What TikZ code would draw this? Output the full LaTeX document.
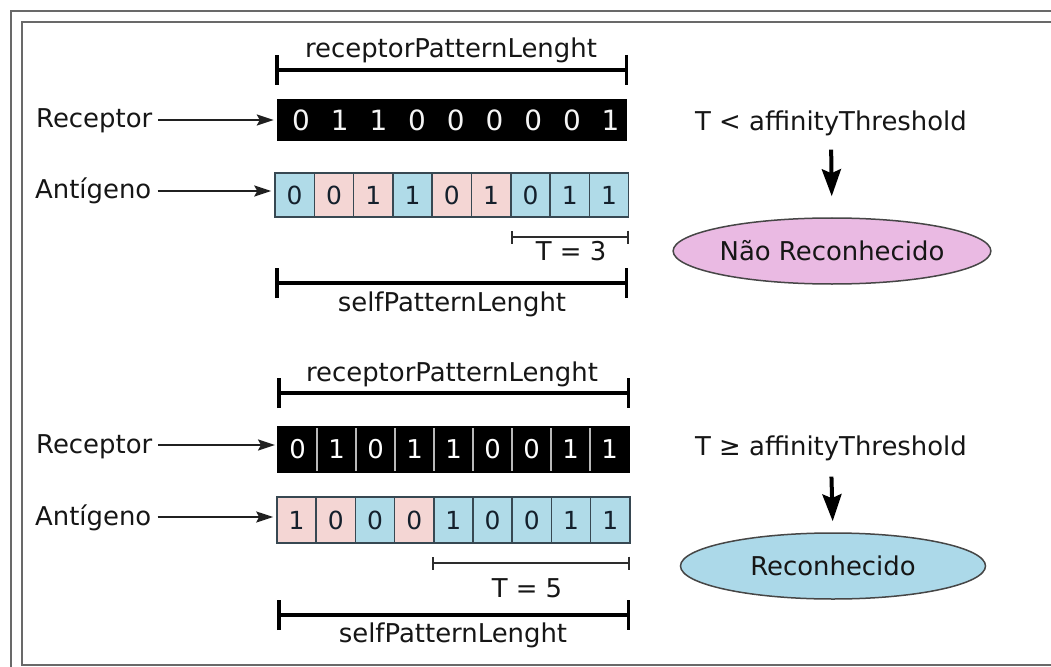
\documentclass[tikz,border=0pt]{standalone}
\usepackage{fontspec}
\setmainfont{DejaVu Sans}
\usetikzlibrary{arrows.meta,shapes.geometric}

\definecolor{cellblue}{RGB}{176,219,232}
\definecolor{cellpink}{RGB}{244,214,212}
\definecolor{ovalpink}{RGB}{234,186,227}
\definecolor{ovalblue}{RGB}{172,217,233}
\definecolor{framegray}{RGB}{105,105,105}
\definecolor{ink}{RGB}{22,22,22}
\definecolor{celledge}{RGB}{55,72,82}
\definecolor{digitink}{RGB}{20,32,44}

\begin{document}
\begin{tikzpicture}[x=1bp,y=-1bp,
  lbl/.style={font=\fontsize{26}{30}\selectfont, text=ink, inner sep=0pt},
  sidelbl/.style={lbl, anchor=west, text height=16bp, text depth=0pt},
  agcell/.style={draw=celledge, line width=1.5bp, minimum width=39.3bp,
    minimum height=44bp, inner sep=0pt, text=digitink,
    font=\fontsize{25}{28}\selectfont},
  rcell/.style={fill=black, draw=gray!55, line width=1.6bp, minimum width=39bp,
    minimum height=45bp, inner sep=0pt, outer sep=0pt, text=white,
    font=\fontsize{26}{30}\selectfont},
  thindigit/.style={inner sep=0pt, text=gray!8, font=\fontsize{28}{32}\selectfont},
  dimbar/.style={line width=3.5bp, draw=black, {Bar[width=30bp]}-{Bar[width=30bp]}},
  tbar/.style={line width=1.6bp, draw=gray!35!black, {Bar[width=13bp]}-{Bar[width=13bp]}},
  pointer/.style={line width=2bp, draw=gray!25!black,
    -{Stealth[length=17bp,width=11bp,inset=3bp]}},
  bigpointer/.style={line width=4bp, draw=black,
    -{Stealth[length=27bp,width=19bp,inset=4bp]}},
  oval/.style={ellipse, draw=gray!55!black, line width=1.5bp, minimum width=305bp,
    minimum height=66bp, inner sep=0pt, font=\fontsize{26}{30}\selectfont,
    text=ink}]

\useasboundingbox (0,0) rectangle (1051,667);
\fill[white] (0,0) rectangle (1051,667);

% double frame
\draw[framegray, line width=2bp] (10.5,667) -- (10.5,11.5) -- (1051,11.5);
\draw[framegray, line width=2bp] (1051,22) -- (22,22) -- (22,665) -- (1051,665);

% ---------- first comparison ----------
\coordinate (d1a) at (275,70);
\coordinate (d1b) at (628,70);
\draw[dimbar] (d1a) -- (d1b);
\node[lbl, anchor=base] (d1t) at (451,58) {receptorPatternLenght};

\node[fill=black, minimum width=350bp, minimum height=42bp, inner sep=0pt]
  (rc1) at (452,120) {};
\foreach \d [count=\i from 0] in {0,1,1,0,0,0,0,0,1}
  \node[thindigit] (rc1-\i) at ({301+38.7*\i},120) {\d};

\foreach \d/\c [count=\i from 0] in
  {0/cellblue,0/cellpink,1/cellpink,1/cellblue,0/cellpink,1/cellpink,0/cellblue,1/cellblue,1/cellblue}
  \node[agcell, fill=\c] (ag1-\i) at ({275+39.3*(\i+0.5)},195) {\d};

\node[sidelbl] (rl1) at (36,120) {Receptor};
\node[sidelbl] (al1) at (35,191) {Antígeno};
\draw[pointer, shorten <=6bp, shorten >=3bp] (rl1.east) -- (rl1.east -| rc1.west);
\draw[pointer, shorten <=6bp, shorten >=3bp] (al1.east) -- (al1.east -| ag1-0.west);

\coordinate (t1a) at (511,237);
\coordinate (t1b) at (629,237);
\draw[tbar] (t1a) -- (t1b);
\node[lbl, anchor=base] (t1t) at (571,260) {T = 3};

\coordinate (s1a) at (275,283);
\coordinate (s1b) at (628,283);
\draw[dimbar] (s1a) -- (s1b);
\node[lbl, anchor=base] (s1t) at (452,311) {selfPatternLenght};

\node[lbl, anchor=base] (c1) at (831,131) {T < affinityThreshold};
\node[oval, fill=ovalpink] (o1) at (832,251) {Não Reconhecido};
\draw[bigpointer, shorten <=13bp, shorten >=21bp] (c1.south) -- (o1.north);

% ---------- second comparison ----------
\coordinate (d2a) at (277,393);
\coordinate (d2b) at (630,393);
\draw[dimbar] (d2a) -- (d2b);
\node[lbl, anchor=base] (d2t) at (452,381) {receptorPatternLenght};

\foreach \d [count=\i from 0] in {0,1,0,1,1,0,0,1,1}
  \node[rcell] (rc2-\i) at ({278+39*(\i+0.5)},449.5) {\d};
\draw[black, line width=2.2bp] (rc2-0.north west) rectangle (rc2-8.south east);

\foreach \d/\c [count=\i from 0] in
  {1/cellpink,0/cellpink,0/cellblue,0/cellpink,1/cellblue,0/cellblue,0/cellblue,1/cellblue,1/cellblue}
  \node[agcell, fill=\c, minimum height=46bp] (ag2-\i) at ({277+39.2*(\i+0.5)},520) {\d};

\node[sidelbl] (rl2) at (36,445) {Receptor};
\node[sidelbl] (al2) at (35,517) {Antígeno};
\draw[pointer, shorten <=6bp, shorten >=3bp] (rl2.east) -- (rl2.east -| rc2-0.west);
\draw[pointer, shorten <=6bp, shorten >=3bp] (al2.east) -- (al2.east -| ag2-0.west);

\coordinate (t2a) at (432,563);
\coordinate (t2b) at (630,563);
\draw[tbar] (t2a) -- (t2b);
\node[lbl, anchor=base] (t2t) at (527,597) {T = 5};

\coordinate (s2a) at (277,615);
\coordinate (s2b) at (630,615);
\draw[dimbar] (s2a) -- (s2b);
\node[lbl, anchor=base] (s2t) at (453,642) {selfPatternLenght};

\node[lbl, anchor=base] (c2) at (831,455) {T ≥ affinityThreshold};
\node[oval, fill=ovalblue] (o2) at (833,566) {Reconhecido};
\draw[bigpointer, shorten <=16bp, shorten >=11bp] (c2.south) -- (o2.north);

\end{tikzpicture}
\end{document}
